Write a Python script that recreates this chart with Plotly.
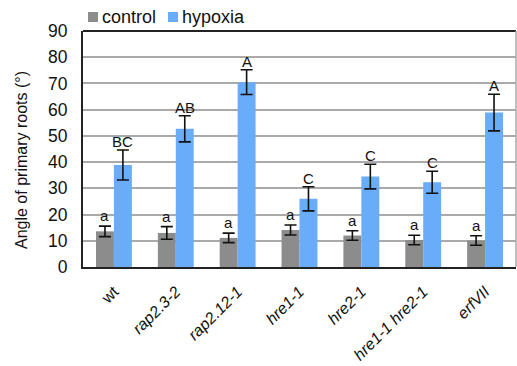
import plotly.graph_objects as go

genotypes = ["wt", "rap2.3-2", "rap2.12-1", "hre1-1", "hre2-1", "hre1-1 hre2-1", "erfVII"]
tick_labels = ["wt", "<i>rap2.3-2</i>", "<i>rap2.12-1</i>", "<i>hre1-1</i>", "<i>hre2-1</i>",
               "<i>hre1-1 hre2-1</i>", "<i>erfVII</i>"]
control = [13.6, 13.0, 11.1, 14.1, 12.0, 10.3, 10.1]
control_err = [2.0, 2.4, 1.8, 1.9, 1.8, 1.8, 1.8]
hypoxia = [38.9, 52.7, 70.5, 26.0, 34.5, 32.3, 58.9]
hypoxia_err = [5.7, 5.0, 4.7, 4.6, 4.7, 4.2, 7.0]
control_letters = ["a", "a", "a", "a", "a", "a", "a"]
hypoxia_letters = ["BC", "AB", "A", "C", "C", "C", "A"]
series_names = ["control", "hypoxia"]
y_title = "Angle of primary roots (°)"

GRAY = "#8c8c8c"
BLUE = "#69acfa"
FONT = "Liberation Sans, Arial, sans-serif"

W, H = 517, 366
L, R, T, B = 83, 1, 31, 99
PW, PH = W - L - R, H - T - B


def px_x(p):
    return (p - L) / PW


def px_y(p):
    return (H - B - p) / PH


fig = go.Figure()
fig.add_trace(go.Bar(
    name=series_names[0], x=genotypes, y=control, marker=dict(color=GRAY, line=dict(width=0)),
    error_y=dict(type="data", array=control_err, color="#111", thickness=1.6, width=6),
))
fig.add_trace(go.Bar(
    name=series_names[1], x=genotypes, y=hypoxia, marker=dict(color=BLUE, line=dict(width=0)),
    error_y=dict(type="data", array=hypoxia_err, color="#111", thickness=1.6, width=6),
))

ann = []
for g, v, e, t in zip(genotypes, control, control_err, control_letters):
    ann.append(dict(x=g, y=v + e, xref="x", yref="y", text=t, showarrow=False,
                    xshift=-9, yanchor="bottom", yshift=0,
                    font=dict(family=FONT, size=15, color="#111")))
for g, v, e, t in zip(genotypes, hypoxia, hypoxia_err, hypoxia_letters):
    ann.append(dict(x=g, y=v + e, xref="x", yref="y", text=t, showarrow=False,
                    xshift=9, yanchor="bottom", yshift=-2,
                    font=dict(family=FONT, size=15, color="#111")))

# y-axis title (placed like the original, slightly below plot centre)
ann.append(dict(x=px_x(21), y=px_y(160), xref="paper", yref="paper", text=y_title,
                textangle=-90, showarrow=False, xanchor="center", yanchor="middle",
                font=dict(family=FONT, size=16, color="#111")))

# custom legend (square + label) like the original
shapes = [
    dict(type="line", xref="paper", yref="paper", x0=0, x1=1, y0=1, y1=1,
         line=dict(color="#222", width=2)),
    dict(type="line", xref="paper", yref="paper", x0=1, x1=1, y0=0, y1=1,
         line=dict(color="#a8a8a8", width=1.5)),
]
for sx, col, name in [(88, GRAY, series_names[0]), (168, BLUE, series_names[1])]:
    shapes.append(dict(type="rect", xref="paper", yref="paper",
                       x0=px_x(sx), x1=px_x(sx + 10), y0=px_y(22), y1=px_y(12),
                       fillcolor=col, line=dict(width=0)))
    ann.append(dict(x=px_x(sx + 12), y=px_y(17), xref="paper", yref="paper", text=name,
                    showarrow=False, xanchor="left", yanchor="middle",
                    font=dict(family=FONT, size=18, color="#111")))

fig.update_layout(
    width=W, height=H,
    margin=dict(l=L, r=R, t=T, b=B, autoexpand=False),
    paper_bgcolor="white", plot_bgcolor="white",
    barmode="group", bargap=0.42, bargroupgap=0,
    font=dict(family=FONT, color="#111"),
    showlegend=False,
    annotations=ann,
    shapes=shapes,
    xaxis=dict(
        tickmode="array", tickvals=genotypes, ticktext=tick_labels,
        tickangle=-45, tickfont=dict(family=FONT, size=16, color="#111"),
        showline=True, linecolor="#222", linewidth=2, ticks="", showgrid=False,
        ticklabelstandoff=7, automargin=False,
    ),
    yaxis=dict(
        range=[0, 90], tickvals=[0, 10, 20, 30, 40, 50, 60, 70, 80, 90],
        tickfont=dict(family=FONT, size=17.5, color="#111"),
        showline=True, linecolor="#222", linewidth=2, ticks="",
        showgrid=True, gridcolor="#aaaaaa", gridwidth=1.5, zeroline=False,
        ticklabelstandoff=10, automargin=False,
    ),
)

fig.write_html("out.html", config={"displayModeBar": False},
               post_script="document.body.style.margin='0';document.body.style.overflow='hidden';")
